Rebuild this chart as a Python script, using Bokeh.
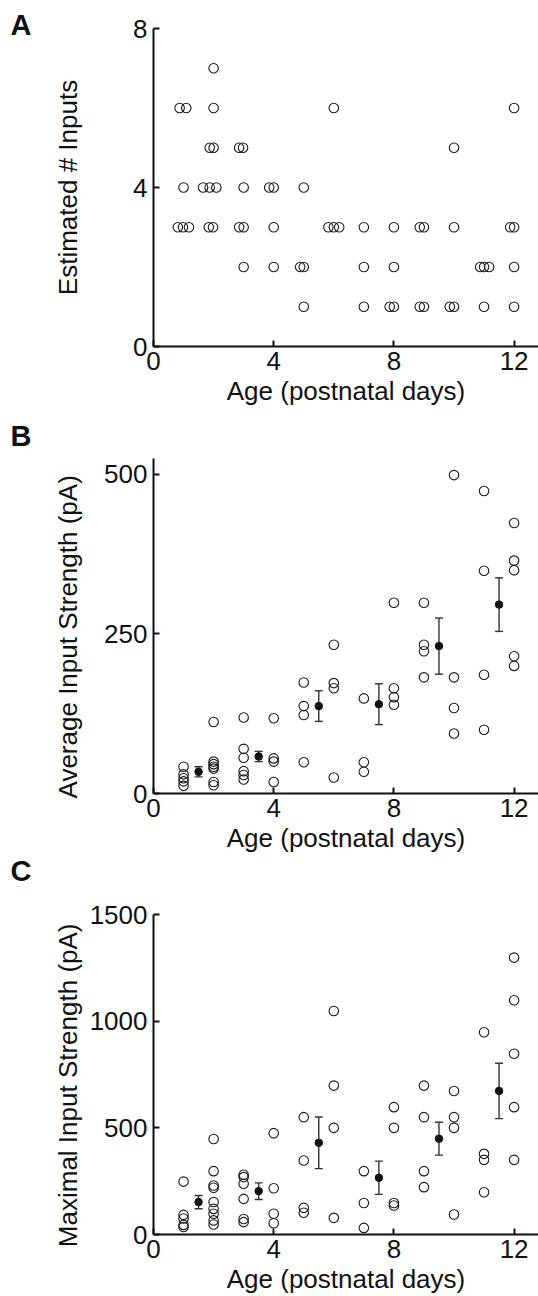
from bokeh.plotting import figure
from bokeh.layouts import column
from bokeh.models import Range1d, FixedTicker, Title
from bokeh.embed import file_html
from bokeh.resources import INLINE

FONT = "Liberation Sans"

# ---------------- data ----------------
# Panel A: estimated number of inputs (ages slightly jittered as plotted)
a_age = [2.0,
         0.87, 1.09, 2.0, 6.0, 12.0,
         1.87, 2.0, 2.85, 2.98, 10.0,
         1.0, 1.65, 1.87, 2.09, 3.0, 3.85, 4.0, 5.0,
         0.81, 0.98, 1.18, 1.84, 1.98, 2.85, 3.0, 4.0, 5.82, 6.0, 6.18, 7.0, 8.0, 8.86, 9.0, 10.0, 11.87, 12.0,
         3.0, 4.0, 4.88, 5.0, 7.0, 8.0, 10.87, 11.0, 11.17, 12.0,
         5.0, 7.0, 7.86, 8.0, 8.86, 9.0, 9.86, 10.0, 11.0, 12.0]
a_inputs = [7,
            6, 6, 6, 6, 6,
            5, 5, 5, 5, 5,
            4, 4, 4, 4, 4, 4, 4, 4,
            3, 3, 3, 3, 3, 3, 3, 3, 3, 3, 3, 3, 3, 3, 3, 3, 3, 3,
            2, 2, 2, 2, 2, 2, 2, 2, 2, 2,
            1, 1, 1, 1, 1, 1, 1, 1, 1, 1]

# Panel B: average input strength (pA)
b_age = [1, 1, 1, 1, 1,
         2, 2, 2, 2, 2, 2, 2,
         3, 3, 3, 3, 3, 3,
         4, 4, 4, 4,
         5, 5, 5, 5,
         6, 6, 6, 6,
         7, 7, 7,
         8, 8, 8, 8,
         9, 9, 9, 9,
         10, 10, 10, 10,
         11, 11, 11, 11,
         12, 12, 12, 12, 12]
b_avg = [42, 30, 24, 19, 12,
         112, 50, 46, 42, 39, 18, 13,
         119, 70, 56, 35, 29, 22,
         118, 55, 50, 18,
         174, 137, 123, 49,
         233, 173, 165, 25,
         149, 49, 34,
         299, 165, 151, 139,
         299, 233, 223, 182,
         499, 182, 134, 94,
         474, 349, 186, 100,
         424, 365, 350, 215, 200]
b_mean_age = [1.5, 3.5, 5.5, 7.5, 9.5, 11.5]
b_mean = [34, 58, 137, 140, 231, 296]
b_sem = [8, 8, 24, 32, 44, 42]

# Panel C: maximal input strength (pA)
c_age = [1, 1, 1, 1, 1,
         2, 2, 2, 2, 2, 2, 2, 2, 2,
         3, 3, 3, 3, 3, 3,
         4, 4, 4, 4,
         5, 5, 5, 5,
         6, 6, 6, 6,
         7, 7, 7,
         8, 8, 8, 8,
         9, 9, 9, 9,
         10, 10, 10, 10,
         11, 11, 11, 11,
         12, 12, 12, 12, 12]
c_max = [248, 92, 75, 45, 35,
         448, 297, 230, 219, 152, 120, 97, 66, 47,
         280, 269, 238, 167, 73, 58,
         475, 217, 97, 53,
         550, 347, 125, 102,
         1048, 698, 500, 78,
         297, 148, 31,
         597, 500, 148, 136,
         698, 550, 297, 222,
         673, 550, 500, 94,
         948, 378, 350, 198,
         1298, 1098, 847, 597, 350]
c_mean_age = [1.5, 3.5, 5.5, 7.5, 9.5, 11.5]
c_mean = [152, 203, 430, 266, 449, 673]
c_sem = [31, 39, 121, 78, 77, 130]

x_ticks = [0, 4, 8, 12]
a_yticks = [0, 4, 8]
b_yticks = [0, 250, 500]
c_yticks = [0, 500, 1000, 1500]
x_label = "Age (postnatal days)"

# ---------------- layout ----------------
FIG_W = 538
LEFT = 153
FRAME_W = FIG_W - LEFT
PX_PER_DAY = 30.05
XMAX = FRAME_W / PX_PER_DAY
NB = "\u00a0"


def letter_title(text, standoff, valign):
    return Title(text=text, align="left", offset=10 - LEFT, standoff=standoff,
                 vertical_align=valign, text_font=FONT, text_font_size="29px",
                 text_font_style="bold", text_color="#111111")


def make_panel(height, bt, bb, ymax, yticks, ylabel, ylabel_standoff):
    p = figure(width=FIG_W, height=height,
               x_range=Range1d(0, XMAX), y_range=Range1d(0, ymax),
               output_backend="svg", toolbar_location=None,
               min_border_left=LEFT, min_border_right=0,
               min_border_top=bt, min_border_bottom=bb)
    p.outline_line_color = None
    p.xgrid.visible = False
    p.ygrid.visible = False
    p.background_fill_color = "white"
    p.border_fill_color = "white"

    p.xaxis.ticker = FixedTicker(ticks=x_ticks)
    p.yaxis.ticker = FixedTicker(ticks=yticks)
    for ax in (p.xaxis, p.yaxis):
        ax.axis_line_width = 2
        ax.axis_line_color = "#111111"
        ax.major_tick_line_width = 2
        ax.major_tick_line_color = "#111111"
        ax.major_tick_in = 6
        ax.major_tick_out = 0
        ax.minor_tick_line_color = None
        ax.major_label_text_font = FONT
        ax.major_label_text_font_size = "26px"
        ax.major_label_text_color = "#111111"
        ax.axis_label_text_font = FONT
        ax.axis_label_text_font_size = "26px"
        ax.axis_label_text_font_style = "normal"
        ax.axis_label_text_color = "#111111"
    p.xaxis.major_label_standoff = 5
    p.yaxis.major_label_standoff = 6
    p.xaxis.axis_label = x_label
    p.xaxis.axis_label_standoff = 3
    p.yaxis.axis_label = ylabel
    p.yaxis.axis_label_standoff = ylabel_standoff
    return p


def open_circles(p, x, y):
    p.scatter(x, y, size=9.5, marker="circle", fill_color=None,
              line_color="#1a1a1a", line_width=1.1)


def means(p, x, m, s):
    lo = [mi - si for mi, si in zip(m, s)]
    hi = [mi + si for mi, si in zip(m, s)]
    p.segment(x0=x, y0=lo, x1=x, y1=hi, line_color="#333333", line_width=1.4)
    p.scatter(x, lo, marker="dash", size=8, line_color="#333333", line_width=1.4)
    p.scatter(x, hi, marker="dash", size=8, line_color="#333333", line_width=1.4)
    p.scatter(x, m, marker="circle", size=7.5, fill_color="#111111",
              line_color="#111111", line_width=1)


# frames (page px): A 28..347, B 458..793, C 914..1234
pa = make_panel(408, 28, 61, 8, a_yticks, "Estimated # Inputs", 47)
pa.add_layout(letter_title("A", -25, "bottom"), "above")
open_circles(pa, a_age, a_inputs)

pb = make_panel(492, 50, 107, 525, b_yticks,
                "Average Input Strength (pA)" + NB * 3, 18)
pb.add_layout(letter_title("B", 14, "bottom"), "above")
pb.add_layout(letter_title("C", -1, "top"), "below")
open_circles(pb, b_age, b_avg)
means(pb, b_mean_age, b_mean, b_sem)

pc = make_panel(396, 14, 62, 1500, c_yticks,
                "Maximal Input Strength (pA)" + NB * 3, 4)
open_circles(pc, c_age, c_max)
means(pc, c_mean_age, c_mean, c_sem)

layout = column(pa, pb, pc, spacing=0)
open("out.html", "w").write(file_html(layout, INLINE))
